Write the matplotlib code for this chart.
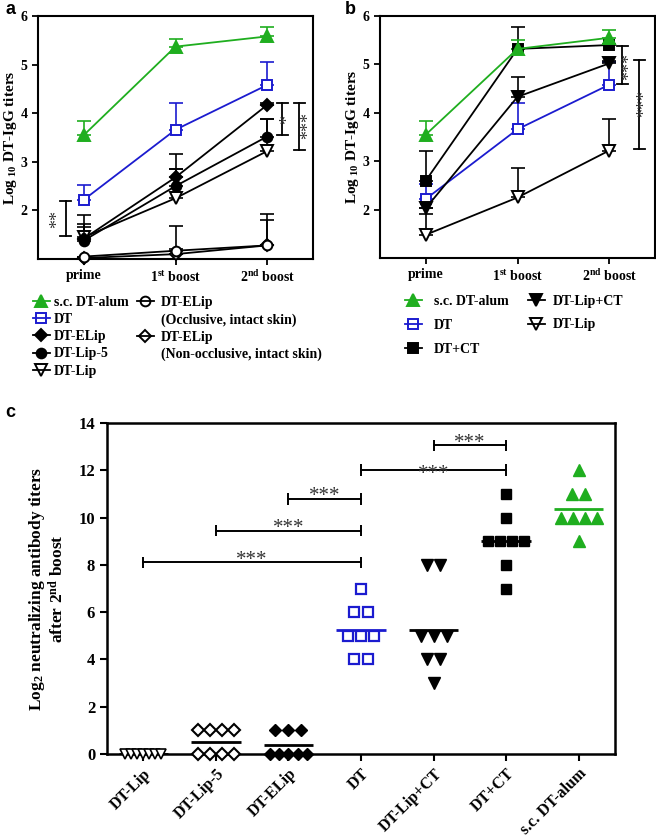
import numpy as np
import matplotlib.pyplot as plt
from matplotlib.lines import Line2D

plt.rcParams['font.family'] = ['Liberation Serif', 'DejaVu Serif']
plt.rcParams['font.weight'] = 'bold'
plt.rcParams['axes.labelweight'] = 'bold'
plt.rcParams['mathtext.fontset'] = 'custom'
plt.rcParams['mathtext.rm'] = 'Liberation Serif:bold'
plt.rcParams['mathtext.it'] = 'Liberation Serif:bold'
plt.rcParams['mathtext.bf'] = 'Liberation Serif:bold'

GREEN = '#1fae1f'
BLUE = '#1b1bcf'

# --- datos panel a / b (log10 IgG, media y error superior) ---
stages = ['prime', r'1$^{\mathrm{st}}$ boost', r'2$^{\mathrm{nd}}$ boost']

a_alum = [3.55, 5.37, 5.58]
a_alum_err = [0.28, 0.15, 0.20]
a_dt = [2.22, 3.66, 4.58]
a_dt_err = [0.31, 0.54, 0.47]
a_elip = [1.42, 2.68, 4.17]
a_elip_err = [0.29, 0.49, 0.05]
a_lip5 = [1.38, 2.50, 3.52]
a_lip5_err = [0.27, 0.35, 0.36]
a_lip = [1.45, 2.25, 3.22]
a_lip_err = [0.45, 0.60, 0.66]
a_occ = [1.05, 1.17, 1.28]
a_occ_err = [0.0, 0.51, 0.64]
a_nonocc = [1.02, 1.10, 1.28]
a_nonocc_err = [0.0, 0.10, 0.52]

b_alum = [3.55, 5.32, 5.55]
b_alum_err = [0.28, 0.18, 0.17]
b_dt = [2.22, 3.66, 4.58]
b_dt_err = [0.31, 0.54, 0.47]
b_dtct = [2.60, 5.32, 5.40]
b_dtct_err = [0.62, 0.45, 0.02]
b_lipct = [2.03, 4.33, 5.02]
b_lipct_err = [0.0, 0.40, 0.06]
b_lip = [1.48, 2.25, 3.22]
b_lip_err = [0.42, 0.60, 0.66]

# --- datos panel c (log2 titulos neutralizantes, animales individuales) ---
groups = ['DT-Lip', 'DT-Lip-5', 'DT-ELip', 'DT', 'DT-Lip+CT', 'DT+CT', 's.c. DT-alum']
c_lip = [0, 0, 0, 0, 0, 0, 0]
c_lip5 = [1, 1, 1, 1, 0, 0, 0, 0]
c_elip = [1, 1, 1, 0, 0, 0, 0, 0]
c_dt = [7, 6, 6, 5, 5, 5, 4, 4]
c_lipct = [8, 8, 5, 5, 5, 4, 4, 3]
c_dtct = [11, 10, 9, 9, 9, 9, 8, 7]
c_alum = [12, 11, 11, 10, 10, 10, 10, 9]

fig = plt.figure(figsize=(6.56, 8.38), dpi=100)
ax_a = fig.add_axes([38/656, 1-259/838, 275/656, 243/838])
ax_b = fig.add_axes([380/656, 1-258/838, 275/656, 242/838])
ax_c = fig.add_axes([107/656, 1-754/838, 508/656, 331/838])

STAR = dict(fontweight='normal', color='#333333', family='Liberation Serif')


def serie(ax, y, err, color, marker, mfc, ms):
    x = np.arange(len(y))
    ax.errorbar(x, y, yerr=[np.zeros(len(y)), err], fmt='none', ecolor=color,
                elinewidth=1.2, capsize=5, capthick=1.2, zorder=2, clip_on=False)
    ax.plot(x, y, color=color, lw=1.3, marker=marker, mfc=mfc, mec=color,
            ms=ms, mew=1.4, zorder=3, clip_on=False)


def handle(color, marker, mfc, ms):
    return Line2D([], [], color=color, lw=1.3, marker=marker, mfc=mfc,
                  mec=color, ms=ms, mew=1.4)


def estilo_ab(ax):
    ax.set_xlim(-0.5, 2.5)
    ax.set_ylim(1, 6)
    ax.set_yticks([2, 3, 4, 5, 6])
    ax.set_xticks(range(3))
    ax.set_xticklabels(stages, fontsize=10)
    ax.tick_params(labelsize=10, width=1.3, length=4, direction='out')
    for s in ax.spines.values():
        s.set_linewidth(1.5)
    ax.set_ylabel(r'Log$_{\ 10}$ DT-IgG titers', fontsize=11, labelpad=1)


def llave_v(ax, x, y0, y1, txt, xt, yt):
    ax.plot([x, x], [y0, y1], color='k', lw=1.3)
    ax.plot([x-0.06, x+0.06], [y0, y0], color='k', lw=1.3)
    ax.plot([x-0.06, x+0.06], [y1, y1], color='k', lw=1.3)
    ax.text(xt, yt, txt, rotation=90, ha='center', va='center', fontsize=13, **STAR)


# panel a
serie(ax_a, a_nonocc, a_nonocc_err, 'k', 'D', 'white', 6)
serie(ax_a, a_occ, a_occ_err, 'k', 'o', 'white', 7)
serie(ax_a, a_lip, a_lip_err, 'k', 'v', 'white', 8)
serie(ax_a, a_lip5, a_lip5_err, 'k', 'o', 'k', 7)
serie(ax_a, a_elip, a_elip_err, 'k', 'D', 'k', 6)
serie(ax_a, a_dt, a_dt_err, BLUE, 's', 'white', 7)
serie(ax_a, a_alum, a_alum_err, GREEN, '^', GREEN, 8)
estilo_ab(ax_a)
llave_v(ax_a, -0.2, 1.47, 2.2, '**', -0.29, 1.83)
llave_v(ax_a, 2.165, 3.55, 4.22, '*', 2.22, 3.88)
llave_v(ax_a, 2.35, 3.25, 4.22, '***', 2.45, 3.75)

leg1 = ax_a.legend(
    [handle(GREEN, '^', GREEN, 8), handle(BLUE, 's', 'none', 7), handle('k', 'D', 'k', 6),
     handle('k', 'o', 'k', 7), handle('k', 'v', 'none', 8)],
    ['s.c. DT-alum', 'DT', 'DT-ELip', 'DT-Lip-5', 'DT-Lip'],
    loc='upper left', bbox_to_anchor=(33/656, 1-296/838), bbox_transform=fig.transFigure,
    frameon=False, fontsize=10, handlelength=1.2, handletextpad=0.3, labelspacing=0.3,
    borderpad=0, borderaxespad=0)
ax_a.add_artist(leg1)
ax_a.legend(
    [handle('k', 'o', 'none', 7), Line2D([], [], ls='none'), handle('k', 'D', 'none', 6),
     Line2D([], [], ls='none')],
    ['DT-ELip', '(Occlusive, intact skin)', 'DT-ELip', '(Non-occlusive, intact skin)'],
    loc='upper left', bbox_to_anchor=(137/656, 1-296/838), bbox_transform=fig.transFigure,
    frameon=False, fontsize=10, handlelength=1.2, handletextpad=0.5, labelspacing=0.3,
    borderpad=0, borderaxespad=0)

# panel b
serie(ax_b, b_lip, b_lip_err, 'k', 'v', 'white', 8)
serie(ax_b, b_dt, b_dt_err, BLUE, 's', 'white', 7)
serie(ax_b, b_lipct, b_lipct_err, 'k', 'v', 'k', 8)
serie(ax_b, b_dtct, b_dtct_err, 'k', 's', 'k', 7)
serie(ax_b, b_alum, b_alum_err, GREEN, '^', GREEN, 8)
estilo_ab(ax_b)
llave_v(ax_b, 2.14, 4.6, 5.37, '***', 2.22, 4.96)
llave_v(ax_b, 2.33, 3.25, 5.1, '***', 2.39, 4.2)

leg2 = ax_b.legend(
    [handle(GREEN, '^', GREEN, 8), handle(BLUE, 's', 'none', 7), handle('k', 's', 'k', 7)],
    ['s.c. DT-alum', 'DT', 'DT+CT'],
    loc='upper left', bbox_to_anchor=(405/656, 1-295/838), bbox_transform=fig.transFigure,
    frameon=False, fontsize=10, handlelength=1.2, handletextpad=0.9, labelspacing=0.8,
    borderpad=0, borderaxespad=0)
ax_b.add_artist(leg2)
ax_b.legend(
    [handle('k', 'v', 'k', 8), handle('k', 'v', 'none', 8)],
    ['DT-Lip+CT', 'DT-Lip'],
    loc='upper left', bbox_to_anchor=(528/656, 1-295/838), bbox_transform=fig.transFigure,
    frameon=False, fontsize=10, handlelength=1.2, handletextpad=0.6, labelspacing=0.75,
    borderpad=0, borderaxespad=0)

# panel c
estilos_c = [
    dict(marker='v', mfc='white', mec='k', ms=6.5, mew=1.2),
    dict(marker='D', mfc='white', mec='k', ms=6, mew=1.5),
    dict(marker='D', mfc='k', mec='k', ms=6, mew=1),
    dict(marker='s', mfc='white', mec=BLUE, ms=7, mew=1.6),
    dict(marker='v', mfc='k', mec='k', ms=8, mew=1),
    dict(marker='s', mfc='k', mec='k', ms=7.5, mew=1),
    dict(marker='^', mfc=GREEN, mec=GREEN, ms=8, mew=1),
]
colores_media = ['k', 'k', 'k', BLUE, 'k', 'k', GREEN]
valores_c = [c_lip, c_lip5, c_elip, c_dt, c_lipct, c_dtct, c_alum]

for i, vals in enumerate(valores_c):
    vals = np.array(vals)
    ax_c.hlines(vals.mean(), i-0.34, i+0.34, color=colores_media[i], lw=2, zorder=2)
    for v in np.unique(vals):
        n = np.sum(vals == v)
        paso = 0.18 if n < 2 else min(0.18, 0.5/(n-1))
        xs = i + (np.arange(n) - (n-1)/2) * paso
        ax_c.plot(xs, np.full(n, v), ls='none', clip_on=False, zorder=3, **estilos_c[i])

llaves_c = [(0, 3, 8.1), (1, 3, 9.45), (2, 3, 10.8), (3, 5, 12.0), (4, 5, 13.05)]
for x1, x2, y in llaves_c:
    ax_c.plot([x1, x2], [y, y], color='k', lw=1.4)
    ax_c.vlines([x1, x2], y-0.25, y+0.25, color='k', lw=1.4)
    dy = -0.6 if (x1, x2) == (3, 5) else -0.3
    ax_c.text((x1+x2)/2, y+dy, '***', ha='center', va='bottom', fontsize=15, **STAR)

ax_c.set_xlim(-0.5, 6.5)
ax_c.set_ylim(0, 14)
ax_c.set_yticks(range(0, 15, 2))
ax_c.set_xticks(range(len(groups)))
ax_c.set_xticklabels(groups, rotation=45, ha='right', rotation_mode='anchor', fontsize=11.5)
ax_c.tick_params(axis='y', labelsize=12)
ax_c.tick_params(width=1.5, length=5, direction='out')
for s in ax_c.spines.values():
    s.set_linewidth(1.8)
ax_c.set_ylabel('Log$_2$ neutralizing antibody titers\nafter 2$^{\\mathrm{nd}}$ boost',
                fontsize=12.5, labelpad=8, linespacing=1.1)

for x, y, t in [(5, 10, 'a'), (345, 10, 'b'), (5, 412, 'c')]:
    fig.text(x/656, 1-y/838, t, family='Liberation Sans', fontweight='bold',
             fontsize=13, va='center', ha='left')

fig.savefig('out.png', dpi=100)
